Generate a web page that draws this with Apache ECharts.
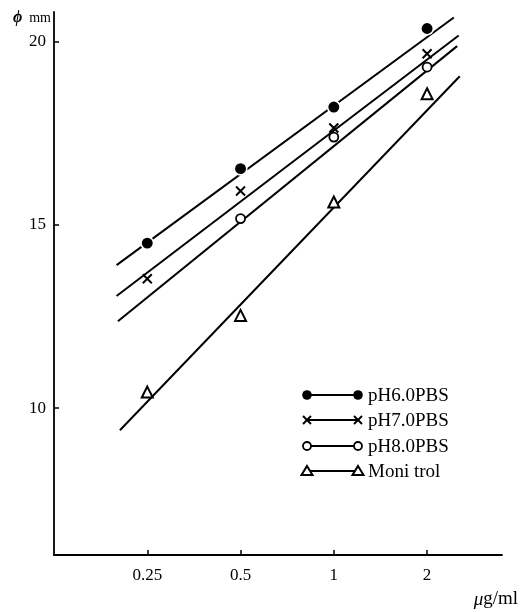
<!DOCTYPE html>
<html>
<head>
<meta charset="utf-8">
<script src="https://cdn.jsdelivr.net/npm/echarts@6/dist/echarts.min.js"></script>
<style>
html,body{margin:0;padding:0;background:#fff;}
#chart{width:523px;height:612px;}
</style>
</head>
<body>
<div id="chart"></div>
<script>
// ---- data ----
const concentrations = [0.25, 0.5, 1, 2];            // µg/ml
const seriesNames = ['pH6.0PBS', 'pH7.0PBS', 'pH8.0PBS', 'Moni trol'];
const ph6Values = [14.50, 16.53, 18.21, 20.35];       // mm
const ph7Values = [13.53, 15.92, 17.64, 19.66];
const ph8Values = [null, 15.17, 17.39, 19.30];
const monitrolValues = [10.44, 12.53, 15.62, 18.57];
// drawn regression lines (end points)
const ph6FitX = [0.199, 2.44],  ph6FitY = [13.90, 20.65];
const ph7FitX = [0.199, 2.53],  ph7FitY = [13.06, 20.16];
const ph8FitX = [0.201, 2.50],  ph8FitY = [12.37, 19.87];
const monFitX = [0.204, 2.55],  monFitY = [9.40, 19.05];
const xTickValues = [0.25, 0.5, 1, 2];
const yTickValues = [10, 15, 20];

const FONT = '"Liberation Serif", "DejaVu Serif", serif';
const pts = (xs, ys) => xs.map((x, i) => [x, ys[i]]);

const valueSets = [ph6Values, ph7Values, ph8Values, monitrolValues];
const fitSets = [[ph6FitX, ph6FitY], [ph7FitX, ph7FitY], [ph8FitX, ph8FitY], [monFitX, monFitY]];

const crossPath = 'path://M0,0L10,10M10,0L0,10';
const markerStyles = [
  {symbol: 'circle', size: 12.5, item: {color: '#000', borderColor: '#fff', borderWidth: 1.6, opacity: 1}},
  {symbol: crossPath, size: 9, item: {color: 'none', borderColor: '#000', borderWidth: 2, opacity: 1}},
  {symbol: 'circle', size: 9, item: {color: '#fff', borderColor: '#000', borderWidth: 1.8, opacity: 1}},
  {symbol: 'triangle', size: 11, item: {color: '#fff', borderColor: '#000', borderWidth: 2, opacity: 1}}
];

const series = [];
fitSets.forEach((f, i) => {
  series.push({
    type: 'line', name: seriesNames[i] + ' fit', data: pts(f[0], f[1]),
    symbol: 'none', lineStyle: {color: '#000', width: 2}, silent: true, z: 2
  });
});
valueSets.forEach((vals, i) => {
  const m = markerStyles[i];
  series.push({
    type: 'scatter', name: seriesNames[i],
    data: concentrations.map((c, j) => vals[j] == null ? null : [c, vals[j]]).filter(d => d),
    symbol: m.symbol, symbolSize: m.size, itemStyle: m.item, z: 5
  });
});

// legend drawn as graphic (marker - line - marker + text)
function markerGraphic(i, cx, cy) {
  if (i === 0) return {type: 'circle', shape: {cx, cy, r: 4.8}, style: {fill: '#000'}};
  if (i === 1) return {type: 'group', children: [
    {type: 'line', shape: {x1: cx - 4, y1: cy - 4, x2: cx + 4, y2: cy + 4}, style: {stroke: '#000', lineWidth: 2}},
    {type: 'line', shape: {x1: cx + 4, y1: cy - 4, x2: cx - 4, y2: cy + 4}, style: {stroke: '#000', lineWidth: 2}}
  ]};
  if (i === 2) return {type: 'circle', shape: {cx, cy, r: 4}, style: {fill: '#fff', stroke: '#000', lineWidth: 1.8}};
  return {type: 'polygon', shape: {points: [[cx, cy - 5], [cx + 5.5, cy + 4], [cx - 5.5, cy + 4]]}, style: {fill: '#fff', stroke: '#000', lineWidth: 2}};
}
const legendRowsY = [395, 420, 446, 471];
const legendGraphics = [];
seriesNames.forEach((name, i) => {
  const y = legendRowsY[i];
  legendGraphics.push({type: 'line', shape: {x1: 307, y1: y, x2: 358, y2: y}, style: {stroke: '#000', lineWidth: 2}, z: 10});
  legendGraphics.push(Object.assign(markerGraphic(i, 307, y), {z: 11}));
  legendGraphics.push(Object.assign(markerGraphic(i, 358, y), {z: 11}));
  legendGraphics.push({type: 'text', x: 368, y: y + 1, style: {text: name, font: '19px ' + FONT, fill: '#000', textVerticalAlign: 'middle'}, z: 11});
});

const chart = echarts.init(document.getElementById('chart'));
chart.setOption({
  backgroundColor: '#fff',
  animation: false,
  grid: {left: 54, right: 21, top: 12, bottom: 57},
  xAxis: {
    type: 'log', logBase: 2, min: 0.125, max: 3.49,
    name: '{mu|μ}g/ml', nameLocation: 'end', nameGap: 16,
    nameTextStyle: {align: 'right', verticalAlign: 'top', padding: [35, 0, 0, 0], fontFamily: FONT, fontSize: 19, color: '#000',
      rich: {mu: {fontStyle: 'italic', fontFamily: FONT, fontSize: 19, color: '#000'}}},
    axisLine: {lineStyle: {color: '#000', width: 1.8}},
    axisTick: {inside: true, length: 5, lineStyle: {color: '#000', width: 1.5}, customValues: xTickValues},
    axisLabel: {customValues: xTickValues, color: '#000', fontFamily: FONT, fontSize: 17, margin: 12,
      formatter: v => String(v)},
    splitLine: {show: false}
  },
  yAxis: {
    type: 'value', min: 6, max: 20.8,
    name: '{phi|ϕ}  mm', nameLocation: 'end', nameGap: -6,
    nameTextStyle: {align: 'right', verticalAlign: 'middle', padding: [0, 3, 0, 0], fontFamily: FONT, fontSize: 14, color: '#000',
      rich: {phi: {fontStyle: 'italic', fontWeight: 'bold', fontFamily: FONT, fontSize: 16, color: '#000'}}},
    axisLine: {show: true, lineStyle: {color: '#000', width: 1.8}},
    axisTick: {show: true, inside: true, length: 5, lineStyle: {color: '#000', width: 1.5}, customValues: yTickValues},
    axisLabel: {customValues: yTickValues, color: '#000', fontFamily: FONT, fontSize: 17, margin: 8},
    splitLine: {show: false}
  },
  series: series,
  graphic: legendGraphics
});
</script>
</body>
</html>
